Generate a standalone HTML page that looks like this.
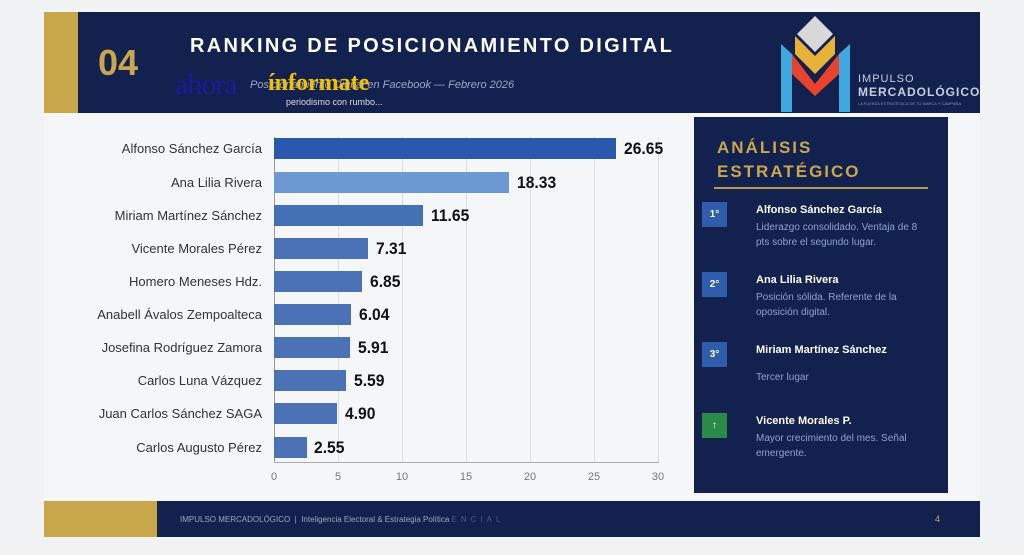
<!DOCTYPE html>
<html><head><meta charset="utf-8"><style>
*{margin:0;padding:0;box-sizing:border-box}
body{width:1024px;height:555px;background:#f1f2f4;position:relative;overflow:hidden;font-family:"Liberation Sans",sans-serif}
.a{position:absolute}
.lbl{position:absolute;right:762px;font-size:13px;color:#333;white-space:nowrap}
.bar{position:absolute;left:274px;height:21px}
.val{position:absolute;font-size:17px;font-weight:bold;color:#111;transform:scaleX(0.92);transform-origin:left}
.grid{position:absolute;top:137px;height:325px;width:1px;background:#dcdde2}
.tick{position:absolute;top:471px;font-size:11px;color:#777;width:20px;text-align:center}
.it{position:absolute;left:702px;width:238px}
.badge{position:absolute;left:0;width:25px;height:25px;background:#2f5cab;color:#fff;font-size:10px;font-weight:bold;text-align:center;line-height:25px}
.nm{position:absolute;left:54px;top:2px;font-size:11px;font-weight:bold;color:#fff;white-space:nowrap}
.ds{position:absolute;left:54px;top:18px;font-size:10px;color:#8ea3cf;line-height:15px;width:172px}
</style></head><body>
<div class="a" style="left:44px;top:10px;width:936px;height:528px;background:#f5f6f8"></div>
<div class="a" style="left:44px;top:12px;width:936px;height:101px;background:#13214f"></div>
<div class="a" style="left:44px;top:12px;width:34px;height:101px;background:#c8a64a"></div>
<div class="a" style="left:98px;top:42px;font-size:36px;font-weight:bold;color:#c9a74e">04</div>
<div class="a" style="left:190px;top:35px;font-size:20px;font-weight:bold;color:#fff;letter-spacing:2.3px">RANKING DE POSICIONAMIENTO DIGITAL</div>
<div class="a" style="left:250px;top:79px;font-size:11px;font-style:italic;color:#9aa8c8">Posicionamiento Digital en Facebook — Febrero 2026</div>
<div class="a" style="left:175px;top:68px;font-size:30px;font-family:'Liberation Serif',serif;color:#1a1a9c;letter-spacing:-1px">ahora</div>
<div class="a" style="left:268px;top:70px;font-size:24px;font-family:'Liberation Serif',serif;font-weight:bold;color:#f2c200">ínformate</div>
<div class="a" style="left:286px;top:97px;font-size:9px;color:#ddd">periodismo con rumbo...</div>
<svg class="a" style="left:778px;top:14px" width="75" height="98" viewBox="0 0 75 98">
<polygon points="3,30 14,40 14,98 3,98" fill="#3fa8e0"/><polygon points="72,30 61,40 61,98 72,98" fill="#3fa8e0"/>
<polygon points="14,40 37,70 61,40 61,60 37,82 14,60" fill="#e8442c"/>
<polygon points="17,22 37,42 57,22 57,40 37,60 17,40" fill="#e8b23a"/>
<polygon points="37,2 55,20 37,38 19,20" fill="#d8d8d8"/>
</svg>
<div class="a" style="left:858px;top:73px;font-size:11px;color:#c8cde0;letter-spacing:1px;line-height:13px">IMPULSO<br><b style="font-size:12px">MERCADOLÓGICO</b></div>
<div class="a" style="left:858px;top:101px;font-size:4px;color:#8090b0">LA FUERZA ESTRATÉGICA DE TU MARCA Y CAMPAÑA</div>

<div class="grid" style="left:274px;background:#999"></div>
<div class="grid" style="left:338px"></div><div class="grid" style="left:402px"></div><div class="grid" style="left:466px"></div><div class="grid" style="left:530px"></div><div class="grid" style="left:594px"></div><div class="grid" style="left:658px"></div>
<div class="a" style="left:274px;top:462px;width:385px;height:1px;background:#aaa"></div>
<div class="tick" style="left:264px">0</div><div class="tick" style="left:328px">5</div><div class="tick" style="left:392px">10</div><div class="tick" style="left:456px">15</div><div class="tick" style="left:520px">20</div><div class="tick" style="left:584px">25</div><div class="tick" style="left:648px">30</div>

<div class="lbl" style="top:141px">Alfonso Sánchez García</div><div class="bar" style="top:138px;width:342px;background:#2859ad"></div><div class="val" style="left:624px;top:139px">26.65</div>
<div class="lbl" style="top:175px">Ana Lilia Rivera</div><div class="bar" style="top:172px;width:235px;background:#6c98d3"></div><div class="val" style="left:517px;top:173px">18.33</div>
<div class="lbl" style="top:208px">Miriam Martínez Sánchez</div><div class="bar" style="top:205px;width:149px;background:#4470b4"></div><div class="val" style="left:431px;top:206px">11.65</div>
<div class="lbl" style="top:241px">Vicente Morales Pérez</div><div class="bar" style="top:238px;width:94px;background:#4a72b4"></div><div class="val" style="left:376px;top:239px">7.31</div>
<div class="lbl" style="top:274px">Homero Meneses Hdz.</div><div class="bar" style="top:271px;width:88px;background:#4a72b4"></div><div class="val" style="left:370px;top:272px">6.85</div>
<div class="lbl" style="top:307px">Anabell Ávalos Zempoalteca</div><div class="bar" style="top:304px;width:77px;background:#4a72b4"></div><div class="val" style="left:359px;top:305px">6.04</div>
<div class="lbl" style="top:340px">Josefina Rodríguez Zamora</div><div class="bar" style="top:337px;width:76px;background:#4a72b4"></div><div class="val" style="left:358px;top:338px">5.91</div>
<div class="lbl" style="top:373px">Carlos Luna Vázquez</div><div class="bar" style="top:370px;width:72px;background:#4a72b4"></div><div class="val" style="left:354px;top:371px">5.59</div>
<div class="lbl" style="top:406px">Juan Carlos Sánchez SAGA</div><div class="bar" style="top:403px;width:63px;background:#4a72b4"></div><div class="val" style="left:345px;top:404px">4.90</div>
<div class="lbl" style="top:440px">Carlos Augusto Pérez</div><div class="bar" style="top:437px;width:33px;background:#4a72b4"></div><div class="val" style="left:314px;top:438px">2.55</div>

<div class="a" style="left:694px;top:117px;width:254px;height:376px;background:#13214f"></div>
<div class="a" style="left:717px;top:136px;font-size:17px;font-weight:bold;color:#c9a74e;letter-spacing:2px;line-height:24px">ANÁLISIS<br>ESTRATÉGICO</div>
<div class="a" style="left:714px;top:187px;width:214px;height:2px;background:#b59a52"></div>
<div class="it" style="top:202px"><div class="badge">1°</div><div class="nm">Alfonso Sánchez García</div><div class="ds">Liderazgo consolidado. Ventaja de 8 pts sobre el segundo lugar.</div></div>
<div class="it" style="top:272px"><div class="badge">2°</div><div class="nm">Ana Lilia Rivera</div><div class="ds">Posición sólida. Referente de la oposición digital.</div></div>
<div class="it" style="top:342px"><div class="badge">3°</div><div class="nm">Miriam Martínez Sánchez</div><div class="ds" style="top:28px">Tercer lugar</div></div>
<div class="it" style="top:413px"><div class="badge" style="background:#2a8a4a">↑</div><div class="nm">Vicente Morales P.</div><div class="ds">Mayor crecimiento del mes. Señal emergente.</div></div>

<div class="a" style="left:44px;top:501px;width:936px;height:36px;background:#13214f"></div>
<div class="a" style="left:44px;top:501px;width:113px;height:36px;background:#c8a64a"></div>
<div class="a" style="left:180px;top:515px;font-size:8px;color:#9aa6c6;white-space:nowrap">IMPULSO MERCADOLÓGICO &nbsp;| &nbsp;Inteligencia Electoral &amp; Estrategia Política <span style="letter-spacing:4px;color:#4a5a80"> ENCIAL</span></div>
<div class="a" style="left:935px;top:514px;font-size:9px;color:#c9a74e">4</div>
</body></html>
